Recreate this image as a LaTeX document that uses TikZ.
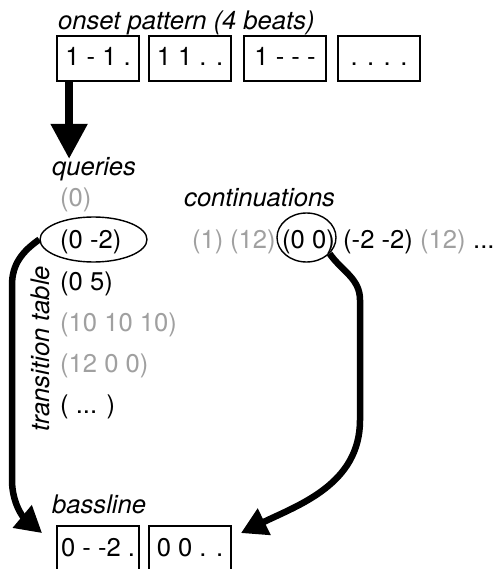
\documentclass[tikz,border=0pt]{standalone}
\usepackage{fontspec}
\setmainfont{TeX Gyre Heros}
\usetikzlibrary{arrows.meta,shapes.geometric}
\definecolor{dimtext}{RGB}{160,160,160}
\begin{document}
\begin{tikzpicture}[x=1pt,y=1pt,
  every node/.style={font=\fontsize{25.6}{30}\selectfont, inner sep=0pt},
  lbl/.style={anchor=base west, font=\fontsize{25.6}{30}\selectfont\itshape},
  txt/.style={anchor=base west},
  faded/.style={anchor=base west, text=dimtext},
  beat/.style={draw, line width=1.8pt, minimum width=82pt, minimum height=45pt,
               text height=18pt, text depth=3pt},
  ring/.style={draw, ellipse, line width=1.4pt},
  bigarrow/.style={line width=8pt, -{Triangle[width=35pt,length=35pt]}},
  flow/.style={line width=6.5pt, -{Triangle[width=28pt,length=26pt]}}]
\useasboundingbox (0,0) rectangle (493,-569);

% onset pattern
\node[lbl] (onset) at (58,-30) {onset pattern (4 beats)};
\node[beat] (b1) at (98,-58.5)  {1 - 1 .};
\node[beat] (b2) at (190,-58.5) {1 1 . .};
\node[beat] (b3) at (285,-58.5) {1 - - -};
\node[beat] (b4) at (379,-58.5) {. . . .};

% queries column
\node[lbl] (queries) at (52,-176) {queries};
\node[faded] (q0) at (60,-206) {(0)};
\node[txt]   (q1) at (60,-248) {(0 -2)};
\node[txt]   (q2) at (60,-290) {(0 5)};
\node[faded] (q3) at (60,-331) {(10 10 10)};
\node[faded] (q4) at (60,-372) {(12 0 0)};
\node[txt]   (q5) at (60,-413) {( ... )};
\node[lbl, rotate=90] (ttable) at (49,-432) {transition table};

% continuations row
\node[lbl] (cont) at (184,-206) {continuations};
\node[faded] (c1) at (192,-248) {(1)};
\node[faded] (c2) at (230,-248) {(12)};
\node[txt]   (c3) at (282,-248) {(0 0)};
\node[txt]   (c4) at (343,-248) {(-2 -2)};
\node[faded] (c5) at (420,-248) {(12)};
\node[txt]   (c6) at (473,-248) {...};

% selection rings
\node[ring, minimum width=107pt, minimum height=45pt] (r1) at (93.5,-239.5) {};
\node[ring, minimum width=59pt, minimum height=49pt] (r2) at (306.5,-237.5) {};

% bassline
\node[lbl] (bass) at (52,-513) {bassline};
\node[beat] (o1) at (98,-548.5)  {0 - -2 .};
\node[beat] (o2) at (190,-548.5) {0 0 . .};

% arrows
\draw[bigarrow] ([xshift=13pt]b1.south west) -- ++(0,-77);
\coordinate (lt) at ([xshift=-14pt,yshift=-8pt]o1.north west);
\coordinate (rt) at ([xshift=9pt,yshift=-8pt]o2.north east);
\draw[flow] (r1.west) to[out=215,in=90] (12,-285) -- (12,-480) to[out=-90,in=140] (lt);
\draw[flow] (r2.-35) to[out=-55,in=90] (360,-300) -- (360,-420) to[out=-90,in=26] (rt);
\end{tikzpicture}
\end{document}
